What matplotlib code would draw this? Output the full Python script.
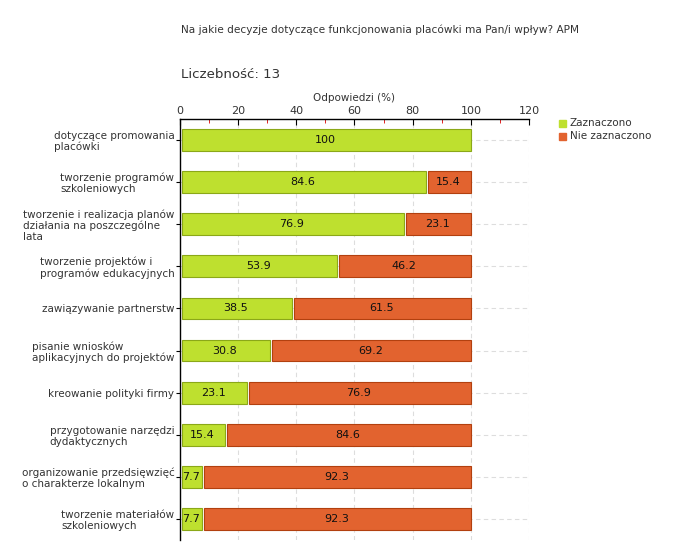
import numpy as np
import matplotlib
matplotlib.use("Agg")
import matplotlib.pyplot as plt

# data
categories = [
    "dotyczące promowania\nplacówki",
    "tworzenie programów\nszkoleniowych",
    "tworzenie i realizacja planów\ndziałania na poszczególne\nlata",
    "tworzenie projektów i\nprogramów edukacyjnych",
    "zawiązywanie partnerstw",
    "pisanie wniosków\naplikacyjnych do projektów",
    "kreowanie polityki firmy",
    "przygotowanie narzędzi\ndydaktycznych",
    "organizowanie przedsięwzięć\no charakterze lokalnym",
    "tworzenie materiałów\nszkoleniowych",
]
zaznaczono = [100, 84.6, 76.9, 53.9, 38.5, 30.8, 23.1, 15.4, 7.7, 7.7]
nie_zaznaczono = [0, 15.4, 23.1, 46.2, 61.5, 69.2, 76.9, 84.6, 92.3, 92.3]
x_ticks = [0, 20, 40, 60, 80, 100, 120]

green = "#BEE02F"
green_edge = "#8BA818"
orange = "#E2632F"
orange_edge = "#B2400F"
txt = "#333333"

plt.rcParams['font.family'] = ['DejaVu Sans']

fig = plt.figure(figsize=(6.8, 5.6), dpi=100)
# axes from x=180..529, y=119..540 (pixels)
ax = fig.add_axes([180 / 680, 1 - 540 / 560, 349 / 680, 421 / 560])

n = len(categories)
y = np.arange(n)
gap = 0.7
h = 0.52

# green bar from small offset to its value, orange from just after it to the total
ax.barh(y, [z - gap for z in zaznaczono], left=gap, height=h, color=green,
        edgecolor=green_edge, linewidth=0.8, zorder=3)
for yi, z, nz in zip(y, zaznaczono, nie_zaznaczono):
    if nz > 0:
        ax.barh(yi, nz - gap, left=z + gap, height=h, color=orange,
                edgecolor=orange_edge, linewidth=0.8, zorder=3)

for yi, z, nz in zip(y, zaznaczono, nie_zaznaczono):
    ax.text(z / 2, yi, f"{z:g}", ha="center", va="center", fontsize=8, color="#111111", zorder=4)
    if nz > 0:
        ax.text(z + nz / 2, yi, f"{nz:g}", ha="center", va="center", fontsize=8, color="#111111", zorder=4)

ax.set_xlim(0, 120)
ax.set_ylim(n - 0.5, -0.5)
ax.set_yticks(y)
ax.set_yticklabels(categories, fontsize=7.5, color=txt, multialignment="left", linespacing=1.12)
ax.xaxis.tick_top()
ax.xaxis.set_label_position("top")
ax.set_xticks(x_ticks)
ax.set_xticklabels([str(t) for t in x_ticks], fontsize=8, color=txt)
ax.set_xticks([10, 30, 50, 70, 90, 110], minor=True)
ax.tick_params(axis="x", which="major", direction="in", length=4, pad=2, color="black")
ax.tick_params(axis="x", which="minor", direction="in", length=3, color="#dd0000")
ax.tick_params(axis="y", direction="out", length=3, pad=1)
ax.set_xlabel("Odpowiedzi (%)", fontsize=7.5, color=txt, labelpad=4)

for s in ["right", "bottom"]:
    ax.spines[s].set_visible(False)
ax.spines["top"].set_linewidth(1.0)
ax.spines["left"].set_linewidth(1.0)

for t in x_ticks[1:]:
    ax.axvline(t, color="#dddddd", linestyle=(0, (4, 3)), linewidth=0.8, zorder=1)
for yi in y:
    ax.axhline(yi, color="#dddddd", linestyle=(0, (4, 3)), linewidth=0.8, zorder=1)

fig.text(181 / 680, 1 - 30 / 560, "Na jakie decyzje dotyczące funkcjonowania placówki ma Pan/i wpływ? APM",
         fontsize=7.6, color=txt, va="center", ha="left")
fig.text(181 / 680, 1 - 75 / 560, "Liczebność: 13", fontsize=9.6, color=txt, va="center", ha="left")

# legend
for i, (lab, col) in enumerate([("Zaznaczono", green), ("Nie zaznaczono", orange)]):
    yy = 1 - (123 + 13 * i) / 560
    fig.patches.append(plt.Rectangle((559 / 680, yy - 3.5 / 560), 7 / 680, 7 / 560,
                                     transform=fig.transFigure, color=col, figure=fig))
    fig.text(570 / 680, yy, lab, fontsize=7.5, color=txt, va="center", ha="left")

fig.savefig("out.png", dpi=100)
